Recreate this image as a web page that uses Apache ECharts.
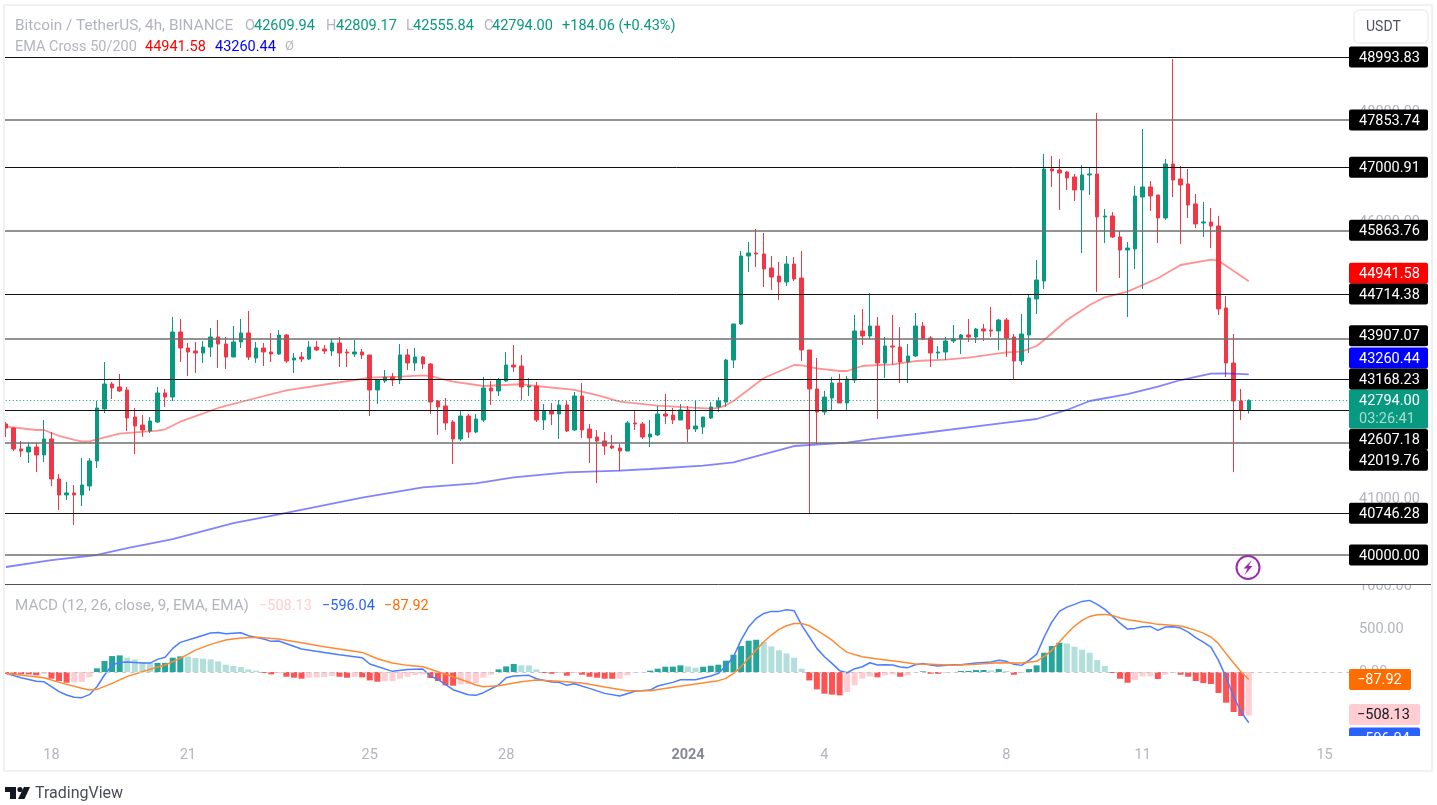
<!DOCTYPE html>
<html>
<head>
<meta charset="utf-8">
<title>BTCUSDT 4h</title>
<script src="https://cdn.jsdelivr.net/npm/echarts@6/dist/echarts.min.js"></script>
<style>
  html, body { margin: 0; padding: 0; background: #fff; }
  #main { width: 1437px; height: 805px; }
</style>
</head>
<body>
<div id="main"></div>
<script>
const opens = [
  42366,42293,41914,41860,41950,41806,42095,41373,41084,41120,
  41084,41246,41698,42637,43088,43034,42980,42492,42347,42239,
  42402,42926,42853,44027,43738,43684,43648,43755,43937,43810,
  43575,43847,44009,43557,43738,43666,43630,43973,43521,43575,
  43539,43755,43720,43684,43829,43666,43630,43666,43612,42980,
  43142,43214,43160,43612,43467,43575,43449,42781,42691,42402,
  42095,42510,42221,42438,43016,42962,43142,43431,43413,43034,
  43052,42438,42600,42546,42709,42257,42871,42275,42131,42059,
  41968,41932,41878,42384,42366,42131,42167,42546,42528,42438,
  42619,42275,42311,42474,42673,42762,43521,44172,45400,45454,
  45436,45183,45038,44930,45255,45002,43702,42998,42582,42835,
  43106,42745,43160,44045,43955,44135,43467,43774,43755,43485,
  43594,44135,43919,43648,43666,43865,43901,43973,43937,44081,
  44063,44045,44244,43937,43503,43973,44623,44948,46971,46953,
  46917,46827,46592,46863,46881,46104,46122,45743,45508,45526,
  46465,46646,46501,46086,47061,46790,46700,46339,45996,46014,
  45941,44461,43467,42781,42609.94
]
const highs = [
  42402,42311,42059,42023,42023,42438,42221,41463,41318,41264,
  41752,41752,42781,43485,43124,43269,43034,42655,42528,42492,
  43034,42998,44298,44262,43829,43847,43865,44099,44244,43937,
  44135,44262,44406,43847,43829,44009,44063,43991,43648,43666,
  43865,43865,43792,43901,43937,43720,43883,43720,43612,43160,
  43341,43287,43810,43720,43738,43594,43467,42799,42835,42438,
  42600,42546,42546,43214,43142,43196,43666,43792,43612,43196,
  43124,42727,42745,42799,42781,42944,43106,42366,42257,42221,
  42167,42004,42420,42619,42402,42438,42691,42907,42655,42727,
  42691,42781,42492,42762,42853,43539,44172,45490,45652,45887,
  45815,45400,45291,45400,45382,45490,43702,43557,42962,43214,
  43269,43232,44334,44443,44731,44298,43937,44334,44117,43810,
  44370,44208,43955,43774,43937,44154,43991,44262,44099,44172,
  44479,44262,44280,43991,44352,44695,45327,47242,47206,47152,
  46935,46881,47043,46989,47982,46249,46194,45851,45652,46664,
  47693,46754,46501,47152,48957,47025,46971,46519,46375,46267,
  46122,44677,43991,42998,42809.17
]
const lows = [
  42131,41878,41770,41662,41499,41680,41246,40812,40993,40542,
  40885,41156,41571,42564,42817,42944,42239,41824,42131,42203,
  42384,42673,42781,43485,43232,43287,43467,43575,43377,43359,
  43575,43738,43521,43467,43413,43485,43612,43467,43287,43485,
  43521,43684,43630,43594,43395,43395,43575,43539,42510,42727,
  43106,43052,43088,43341,43323,43359,42546,42167,42257,41644,
  42059,42113,42203,42402,42709,42871,43124,43305,42799,42871,
  42402,42257,42347,42095,42221,42239,42113,41662,41300,41806,
  41914,41517,41878,42257,42095,41950,42149,42366,42366,42438,
  42041,42221,42185,42456,42582,42673,43377,44154,45111,45201,
  44840,44786,44605,44858,44948,43503,40758,42004,42528,42619,
  42745,42619,43106,43792,43901,42456,43196,43431,43106,43106,
  43575,43883,43395,43539,43521,43829,43630,43847,43829,43865,
  43937,43702,43575,43178,43431,43648,44352,44804,46646,46230,
  46592,46393,45454,46501,44749,45634,45725,45002,44298,45165,
  44804,46212,45634,46050,46465,45616,46086,45905,45743,45544,
  44334,43214,41499,42438,42555.84
]
const closes = [
  42293,41914,41878,41950,41806,42095,41373,41084,41120,41084,
  41264,41698,42655,43088,43016,42962,42474,42329,42257,42420,
  42926,42853,44027,43738,43666,43648,43755,43937,43810,43575,
  43847,44009,43575,43738,43666,43630,43973,43503,43557,43539,
  43755,43702,43684,43829,43648,43648,43666,43612,42980,43160,
  43214,43160,43612,43467,43575,43449,42762,42673,42384,42095,
  42510,42221,42456,43016,42962,43160,43431,43395,43034,43052,
  42438,42600,42546,42709,42239,42871,42257,42113,42059,41968,
  41932,41878,42384,42366,42131,42185,42546,42510,42438,42619,
  42275,42329,42492,42673,42781,43521,44172,45400,45454,45436,
  45165,45020,44930,45255,44984,43702,42998,42582,42853,43106,
  42745,43178,44045,43955,44135,43467,43774,43755,43485,43594,
  44135,43901,43648,43666,43865,43901,43973,43937,44081,44045,
  44045,44244,43919,43503,43991,44641,44966,46971,46935,46899,
  46808,46592,46863,46881,46104,46122,45743,45508,45544,46483,
  46646,46483,46086,47061,46772,46682,46321,45978,46014,45941,
  44443,43467,42781,42610,42794.00
]

const ema50 = [
  [0,42317],[4,42257],[5,42257],[7,42149],[9,42077],[10,42053],[11,42053],[13,42125],[15,42190],[20,42245],
  [21,42270],[23,42407],[28,42655],[32,42799],[37,42974],[46,43160],[48,43202],[52,43220],[55,43245],[56,43232],
  [59,43130],[63,43052],[68,43083],[70,43052],[75,42980],[78,42889],[81,42768],[86,42696],[90,42667],[93,42642],
  [94,42655],[95,42703],[96,42781],[100,43196],[104,43431],[105,43426],[107,43371],[110,43323],[111,43323],[113,43413],
  [114,43422],[117,43444],[120,43503],[124,43527],[127,43563],[132,43660],[134,43671],[136,43774],[137,43883],[140,44244],
  [143,44515],[145,44654],[148,44755],[152,44997],[155,45237],[159,45333],[160,45315],[164,44941.58]
]
const ema200 = [
  [0,39783],[6,39909],[12,40000],[16,40126],[22,40288],[30,40577],[36,40735],[47,41035],[55,41222],[62,41295],
  [67,41403],[74,41493],[81,41522],[85,41553],[92,41613],[96,41674],[104,41968],[111,42028],[114,42089],[120,42185],
  [132,42389],[136,42456],[140,42619],[143,42781],[148,42907],[152,43039],[155,43160],[159,43274],[161,43281],[164,43260.44]
]

const macdHist = [
  -23,-25,-26,-28,-39,-20,-78,-105,-125,-121,
  -117,-62,43,129,187,195,168,148,117,105,
  106,107,168,183,181,164,156,148,125,86,
  70,58,31,16,-12,-27,-16,-55,-66,-78,
  -66,-62,-59,-47,-55,-66,-59,-62,-98,-113,
  -109,-105,-78,-55,-35,-27,-70,-105,-156,-160,
  -144,-140,-129,-66,-31,31,66,94,78,77,
  31,-12,-20,-12,-43,-12,-31,-55,-66,-78,
  -79,-78,-39,-8,-4,16,39,62,63,78,
  66,51,62,74,86,133,203,304,367,378,
  351,300,254,218,168,39,-98,-203,-254,-265,
  -273,-234,-156,-78,-51,-62,-39,-27,-55,-39,
  -4,8,-20,-21,-12,-2,12,13,23,24,
  20,35,12,-31,-12,35,78,226,304,343,
  335,296,261,226,140,70,-12,-78,-125,-94,
  -51,-50,-82,-31,-12,-31,-55,-105,-129,-140,
  -246,-359,-468,-515,-508.13
]
const macdLine = [
  [0,-16],[2,-66],[4,-109],[5,-113],[7,-230],[8,-269],[9,-296],[10,-300],[11,-265],[12,-172],
  [13,-35],[14,82],[15,113],[16,117],[18,105],[19,105],[20,148],[21,172],[22,277],[23,347],
  [25,402],[27,456],[28,464],[29,449],[31,460],[32,425],[34,386],[35,359],[36,363],[39,269],
  [42,230],[44,203],[47,168],[48,94],[51,8],[53,31],[55,35],[56,-47],[57,-86],[59,-207],
  [61,-265],[62,-273],[63,-242],[65,-152],[66,-66],[67,-47],[69,-39],[70,-78],[72,-117],[73,-121],
  [74,-156],[75,-137],[77,-191],[79,-250],[81,-281],[83,-226],[85,-211],[86,-164],[88,-121],[89,-90],
  [91,-90],[93,-47],[94,-16],[95,70],[96,179],[97,374],[98,530],[99,628],[100,686],[101,710],
  [102,710],[103,729],[104,718],[105,550],[106,413],[107,277],[108,179],[109,101],[110,16],[111,-8],
  [112,39],[113,62],[114,109],[115,82],[116,86],[117,82],[118,59],[119,51],[120,86],[121,101],
  [122,82],[123,70],[125,86],[126,86],[128,105],[129,113],[130,117],[131,137],[132,125],[133,90],
  [134,78],[135,137],[136,207],[137,410],[138,585],[139,710],[140,760],[141,792],[142,827],[143,839],
  [144,792],[145,733],[146,655],[147,573],[148,503],[149,511],[150,530],[151,534],[152,488],[153,527],
  [154,530],[155,515],[156,468],[157,402],[158,351],[159,293],[160,137],[161,-59],[162,-293],[163,-468],[164,-596.04]
]
const macdSignal = [
  [0,-16],[3,-47],[5,-66],[7,-121],[10,-191],[11,-211],[12,-203],[14,-133],[16,-51],[18,4],
  [20,59],[21,82],[23,160],[25,257],[27,324],[29,374],[31,398],[33,406],[36,386],[39,343],
  [42,296],[47,230],[49,156],[51,105],[53,78],[55,62],[57,4],[59,-55],[61,-117],[62,-152],
  [63,-172],[65,-160],[68,-113],[70,-94],[73,-109],[76,-129],[79,-175],[82,-218],[85,-218],[88,-179],
  [91,-140],[94,-101],[95,-74],[96,-16],[97,62],[98,160],[99,257],[100,355],[101,433],[102,499],
  [103,542],[104,569],[105,569],[106,542],[107,491],[108,433],[109,374],[110,296],[111,230],[113,179],
  [115,152],[118,121],[120,94],[122,90],[125,78],[128,90],[131,109],[134,105],[136,125],[137,183],
  [138,254],[139,351],[140,449],[141,538],[142,605],[143,651],[144,671],[145,675],[146,663],[147,632],
  [148,612],[149,601],[150,585],[151,573],[152,558],[153,554],[155,538],[156,515],[157,488],[158,456],
  [159,410],[160,332],[161,215],[162,105],[163,0],[164,-87.92]
]

const priceLevels = [48993.83, 47853.74, 47000.91, 45863.76, 44714.38, 43907.07, 43168.23, 42607.18, 42019.76, 40746.28, 40000]
const softLevels = [47853.74, 45863.76, 43907.07, 42019.76, 40000]
const lastPrice = 42794
const priceTicks = [41000, 42000, 43000, 44000, 45000, 46000, 47000, 48000, 49000]
const macdTicks = [0, 500, 1000]

const dayTickIndex = [6, 24, 48, 66, 90, 108, 132, 150, 174]
const dayTickLabels = ['18', '21', '25', '28', '2024', '4', '8', '11', '15']
const slotCount = 178
const categories = Array.from({ length: slotCount }, (v, i) => String(i))

const upColor = '#089981'
const downColor = '#F23645'
const fontFamily = 'Roboto, "Noto Sans", sans-serif'
const axisGrey = '#b2b5be'

const chart = echarts.init(document.getElementById('main'))

function histColor (v, i) {
  let prev = i > 0 ? macdHist[i - 1] : 0
  if (v >= 0) return v > prev ? '#26a69a' : '#b2dfdb'
  return v < prev ? '#ff5252' : '#ffcdd2'
}

let levelLines = priceLevels.map(v => ({
  yAxis: v,
  lineStyle: softLevels.includes(v)
    ? { color: '#6f6f6f', width: 1.5, type: 'solid' }
    : { color: '#111', width: 1, type: 'solid' }
}))
levelLines.push({ yAxis: lastPrice, lineStyle: { color: upColor, width: 1, type: [1, 2.5] } })

chart.setOption({
  animation: false,
  backgroundColor: '#fff',
  textStyle: { fontFamily },
  grid: [
    { left: 2.2, width: 1348.9, top: 14, height: 570 },
    { left: 2.2, width: 1348.9, top: 585, height: 151 }
  ],
  xAxis: [
    {
      type: 'category', gridIndex: 0, data: categories, boundaryGap: true,
      axisLine: { show: false }, axisTick: { show: false }, axisLabel: { show: false }, splitLine: { show: false }
    },
    {
      type: 'category', gridIndex: 1, data: categories, boundaryGap: true, z: 60,
      axisLine: { show: false }, axisTick: { show: false }, splitLine: { show: false },
      axisLabel: {
        interval: (idx) => dayTickIndex.includes(idx),
        formatter: (v, idx) => {
          let label = dayTickLabels[dayTickIndex.indexOf(Number(v))]
          return label === '2024' ? '{year|2024}' : label
        },
        color: axisGrey, fontSize: 14.5, margin: 12,
        rich: { year: { fontWeight: 'bold', color: '#878a94', fontSize: 14.5, fontFamily } }
      }
    }
  ],
  yAxis: [
    {
      type: 'value', gridIndex: 0, position: 'right', min: 39476, max: 49770, scale: true,
      axisLine: { show: false }, axisTick: { show: false }, splitLine: { show: false },
      axisLabel: { customValues: priceTicks, formatter: v => v.toFixed(2), color: axisGrey, fontSize: 14.5, margin: 8, padding: [7, 0, 0, 0] }
    },
    {
      type: 'value', gridIndex: 1, position: 'right', min: -749, max: 1019, scale: true,
      axisLine: { show: false }, axisTick: { show: false }, splitLine: { show: false },
      axisLabel: { customValues: macdTicks, formatter: v => v.toFixed(2), color: axisGrey, fontSize: 14.5, margin: 8, padding: [6, 0, 0, 0] }
    }
  ],
  series: [
    {
      type: 'candlestick', name: 'BTCUSDT', xAxisIndex: 0, yAxisIndex: 0, barWidth: 4,
      data: opens.map((o, i) => [o, closes[i], lows[i], highs[i]]),
      itemStyle: { color: upColor, color0: downColor, borderColor: upColor, borderColor0: downColor, borderWidth: 1 },
      markLine: {
        silent: true, symbol: 'none', animation: false, label: { show: false },
        data: levelLines
      }
    },
    {
      type: 'line', name: 'EMA 50', xAxisIndex: 0, yAxisIndex: 0, data: ema50, showSymbol: false, z: 3,
      lineStyle: { color: 'rgba(255,40,40,0.5)', width: 1.8 }
    },
    {
      type: 'line', name: 'EMA 200', xAxisIndex: 0, yAxisIndex: 0, data: ema200, showSymbol: false, z: 3,
      lineStyle: { color: 'rgba(30,30,255,0.55)', width: 1.8 }
    },
    {
      type: 'bar', name: 'Histogram', xAxisIndex: 1, yAxisIndex: 1, barWidth: 6,
      data: macdHist.map((v, i) => ({ value: v, itemStyle: { color: histColor(v, i) } })),
      markLine: {
        silent: true, symbol: 'none', animation: false, label: { show: false },
        data: [{ yAxis: 0, lineStyle: { color: '#c4c6cd', width: 1, type: [4, 4] } }]
      }
    },
    {
      type: 'line', name: 'MACD', xAxisIndex: 1, yAxisIndex: 1, data: macdLine, showSymbol: false, z: 3,
      lineStyle: { color: '#4a7dff', width: 1.5 }
    },
    {
      type: 'line', name: 'Signal', xAxisIndex: 1, yAxisIndex: 1, data: macdSignal, showSymbol: false, z: 3,
      lineStyle: { color: '#ff8a33', width: 1.5 }
    }
  ]
})

// price tags on the right scale, shift moves a tag off its level the way the stacked labels do
const tagLeft = 1349
const mainTags = [
  { text: '48993.83', value: 48993.83, shift: 0, bg: '#000' },
  { text: '47853.74', value: 47853.74, shift: 0, bg: '#000' },
  { text: '47000.91', value: 47000.91, shift: 0, bg: '#000' },
  { text: '45863.76', value: 45863.76, shift: 0, bg: '#000' },
  { text: '44941.58', value: 44941.58, shift: -8, bg: '#ff0000' },
  { text: '44714.38', value: 44714.38, shift: 0, bg: '#000' },
  { text: '43907.07', value: 43907.07, shift: -3, bg: '#000' },
  { text: '43260.44', value: 43260.44, shift: -16.5, bg: '#0000ff' },
  { text: '43168.23', value: 43168.23, shift: -0.5, bg: '#000' },
  { text: '42607.18', value: 42607.18, shift: 29, bg: '#000' },
  { text: '42019.76', value: 42019.76, shift: 17, bg: '#000' },
  { text: '40746.28', value: 40746.28, shift: -0.5, bg: '#000' },
  { text: '40000.00', value: 40000, shift: 0, bg: '#000' }
]
const macdTags = [
  { text: '\u221287.92', value: -87.92, shift: 0, bg: '#ff6d00', fg: '#fff', w: 62 },
  { text: '\u2212508.13', value: -508.13, shift: -1, bg: '#ffcdd2', fg: '#131722', w: 71 },
  { text: '\u2212596.04', value: -596.04, shift: 15, bg: '#2962ff', fg: '#fff', w: 71 }
]

function label (text, x, y, fill, size, z, extra) {
  return {
    type: 'text', z: z || 45, silent: true,
    style: Object.assign({ text, x, y: y + 1, fill, fontSize: size || 14.5, fontFamily, align: 'left', verticalAlign: 'middle' }, extra)
  }
}
function box (x, y, width, height, fill, z, r) {
  return { type: 'rect', z: z || 44, silent: true, shape: { x, y, width, height, r: r || 0 }, style: { fill } }
}

let elements = []
mainTags.forEach(t => {
  let cy = chart.convertToPixel({ yAxisIndex: 0 }, t.value) + t.shift
  elements.push(box(tagLeft, cy - 10.5, 79, 21, t.bg, 44, 2))
  elements.push(label(t.text, 1359, cy, '#fff'))
})
let lastY = chart.convertToPixel({ yAxisIndex: 0 }, lastPrice)
elements.push(box(tagLeft, lastY - 11, 79, 39.5, upColor, 43, 2))
elements.push(label('42794.00', 1359, lastY, '#fff'))
elements.push(label('03:26:41', 1359, lastY + 18.5, '#a9dcd1'))
macdTags.forEach(t => {
  let cy = chart.convertToPixel({ yAxisIndex: 1 }, t.value) + t.shift
  elements.push(box(tagLeft, cy - 10.5, t.w, 21, t.bg, 44, 2))
  elements.push(label(t.text, tagLeft + 8, cy, t.fg))
})

// masks: the panes cut off what runs past them
elements.push(box(0, 0, 4, 805, '#fff', 50))
elements.push(box(5, 736, 1426, 34, '#fff', 50))
elements.push(box(1349, 566, 82, 18.5, '#fff', 50))
elements.push({ type: 'line', z: 55, silent: true, shape: { x1: 5, y1: 584.5, x2: 1432, y2: 584.5 }, style: { stroke: '#50535e', lineWidth: 1 } })
elements.push({ type: 'rect', z: 56, silent: true, shape: { x: 4, y: 5, width: 1428, height: 766 }, style: { fill: 'none', stroke: '#eff1f5', lineWidth: 2 } })

// legend rows
const row1 = 25
const row2 = 46
elements.push(label('Bitcoin / TetherUS, 4h, BINANCE', 15, row1, axisGrey, 15.3))
;[['O', 245, '42609.94', 254], ['H', 326, '42809.17', 336], ['L', 406, '42555.84', 413], ['C', 484, '42794.00', 492]].forEach(d => {
  elements.push(label(d[0], d[1], row1, axisGrey))
  elements.push(label(d[2], d[3], row1, upColor))
})
elements.push(label('+184.06 (+0.43%)', 562, row1, upColor))
elements.push(label('EMA Cross 50/200', 15, row2, axisGrey))
elements.push(label('44941.58', 145, row2, '#ff0000'))
elements.push(label('43260.44', 215, row2, '#0000ff'))
elements.push(label('\u00d8', 285, row2, axisGrey, 13))
elements.push(label('MACD (12, 26, close, 9, EMA, EMA)', 15, 605, axisGrey, 15.2))
elements.push(label('\u2212508.13', 259, 605, '#ffcdd2'))
elements.push(label('\u2212596.04', 322, 605, '#2962ff'))
elements.push(label('\u221287.92', 384, 605, '#ff6d00'))

// currency button
elements.push({ type: 'rect', z: 45, silent: true, shape: { x: 1354, y: 10, width: 74, height: 33, r: 5 }, style: { fill: '#fff', stroke: '#eceef3', lineWidth: 1.5 } })
elements.push(label('USDT', 1366, 26, '#50535e', 14, 46))

// purple lightning marker
elements.push({ type: 'circle', z: 45, silent: true, shape: { cx: 1248, cy: 567.5, r: 11.5 }, style: { fill: '#fff', stroke: '#9c27b0', lineWidth: 2 } })
elements.push({ type: 'polygon', z: 46, silent: true, shape: { points: [[1252, 560], [1243.5, 568.5], [1247.5, 568.5], [1244.5, 575], [1252.5, 566], [1248.5, 566]] }, style: { fill: '#9c27b0' } })

// TradingView mark
elements.push({ type: 'polygon', z: 46, silent: true, shape: { points: [[5, 787], [16, 787], [16, 799], [10, 799], [10, 792], [5, 792]] }, style: { fill: '#131722' } })
elements.push({ type: 'circle', z: 46, silent: true, shape: { cx: 20, cy: 789.5, r: 2.6 }, style: { fill: '#131722' } })
elements.push({ type: 'polygon', z: 46, silent: true, shape: { points: [[24, 787], [30, 787], [24.5, 799], [18, 799]] }, style: { fill: '#131722' } })
elements.push(label('TradingView', 35, 793, '#4a4c57', 16, 46))

chart.setOption({ graphic: { elements } })
</script>
</body>
</html>
